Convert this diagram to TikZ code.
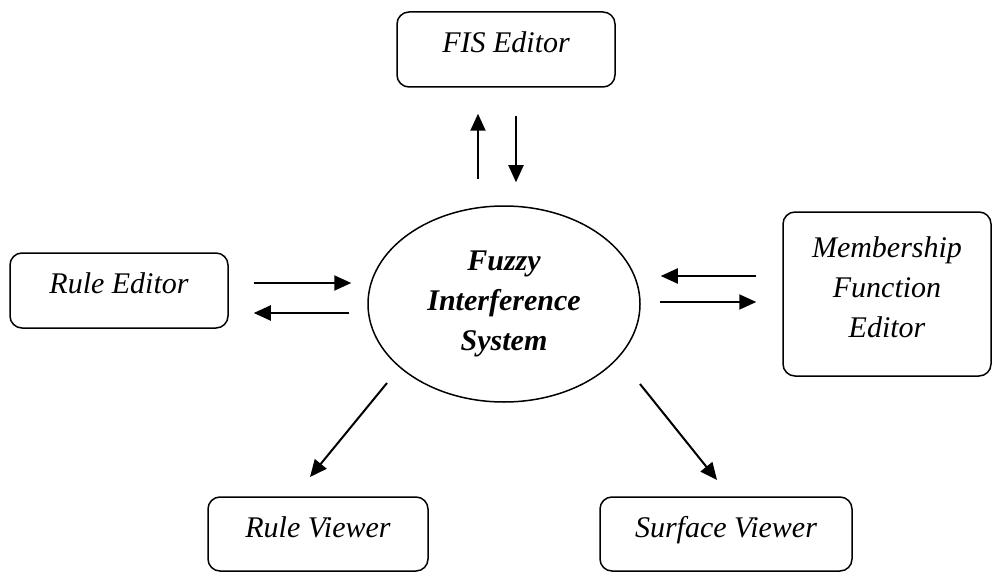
\documentclass[tikz,border=0pt]{standalone}
\usepackage{fontspec}
\setmainfont{Liberation Serif}
\usetikzlibrary{arrows.meta,shapes.geometric}

\tikzset{
  toolbox/.style={draw, line width=1.5pt, rounded corners=12pt, inner sep=0pt,
    font=\fontsize{30}{40}\selectfont\itshape, align=center},
  tool/.style={toolbox, text height=21pt, text depth=15pt},
  flow/.style={line width=2pt, -{Triangle[length=17pt,width=15pt]}}
}

\begin{document}
\begin{tikzpicture}[x=1pt,y=-1pt]
        \useasboundingbox (0,0) rectangle (992,572);
        % the editors and viewers round the system
        \node[tool, minimum width=218pt, minimum height=75pt] (fis) at (506,49.5) {FIS Editor};
        \node[tool, minimum width=218pt, minimum height=75pt] (rule) at (119,290.5) {Rule Editor};
        \node[toolbox, text depth=14pt, minimum width=208pt, minimum height=164pt] (mf) at (887,294) {Membership\\Function\\Editor};
        \node[tool, minimum width=220pt, minimum height=74pt] (rv) at (318,534) {Rule Viewer};
        \node[tool, minimum width=252pt, minimum height=74pt] (sv) at (726,534) {Surface Viewer};
        \node[draw, ellipse, line width=1.5pt, inner sep=0pt, minimum width=272pt, minimum height=196pt,
              font=\fontsize{30}{40}\selectfont\bfseries\itshape, align=center] (fuzzy) at (504,304)
              {Fuzzy\\Interference\\System};
        \coordinate (rvtail) at (387,383);
        \coordinate (rvtip) at (310,477);
        \coordinate (svtail) at (640,384);
        \coordinate (svtip) at (717,480);

        % arrows
        \draw[flow, shorten <=26pt, shorten >=26pt] ([xshift=-28pt]fis.south |- fuzzy.north) -- ([xshift=-28pt]fis.south);
        \draw[flow, shorten <=28pt, shorten >=23pt] ([xshift=10pt]fis.south) -- ([xshift=10pt]fis.south |- fuzzy.north);
        \draw[flow, shorten <=25pt, shorten >=16pt] ([yshift=7.5pt]rule.east) -- ([yshift=7.5pt]rule.east -| fuzzy.west);
        \draw[flow, shorten <=18pt, shorten >=25pt] ([yshift=-22.5pt]rule.east -| fuzzy.west) -- ([yshift=-22.5pt]rule.east);
        \draw[flow, shorten <=26pt, shorten >=20pt] ([yshift=18pt]mf.west) -- ([yshift=18pt]mf.west -| fuzzy.east);
        \draw[flow, shorten <=19pt, shorten >=26pt] ([yshift=-8pt]mf.west -| fuzzy.east) -- ([yshift=-8pt]mf.west);
        \draw[flow] (rvtail) -- (rvtip);
        \draw[flow] (svtail) -- (svtip);
\end{tikzpicture}
\end{document}
